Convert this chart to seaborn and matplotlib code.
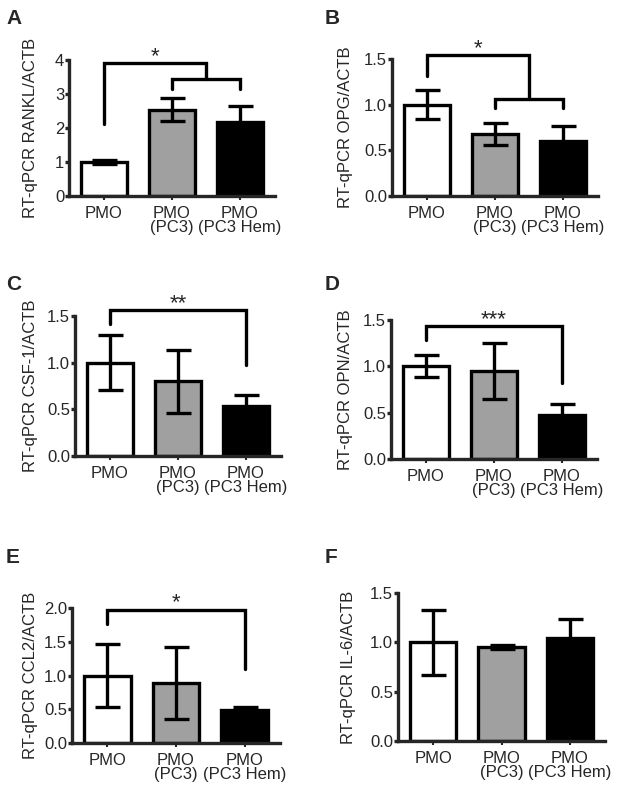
import matplotlib
matplotlib.use("Agg")
import matplotlib.pyplot as plt
import seaborn as sns
import pandas as pd
import numpy as np

# groups shared by all panels
groups = ["PMO", "PMO\n(PC3)", "PMO\n(PC3 Hem)"]
bar_colors = ["#ffffff", "#a0a0a0", "#000000"]

# mean +/- SEM (normalised to PMO = 1)
rankl_mean = [1.00, 2.54, 2.19]
rankl_sem = [0.05, 0.34, 0.46]
opg_mean = [1.00, 0.68, 0.60]
opg_sem = [0.16, 0.12, 0.165]
csf1_mean = [1.00, 0.80, 0.54]
csf1_sem = [0.295, 0.335, 0.115]
opn_mean = [1.00, 0.95, 0.475]
opn_sem = [0.12, 0.30, 0.12]
ccl2_mean = [1.00, 0.89, 0.49]
ccl2_sem = [0.47, 0.53, 0.04]
il6_mean = [1.00, 0.95, 1.04]
il6_sem = [0.33, 0.02, 0.20]

ylabels = ["RT-qPCR RANKL/ACTB", "RT-qPCR OPG/ACTB", "RT-qPCR CSF-1/ACTB",
           "RT-qPCR OPN/ACTB", "RT-qPCR CCL2/ACTB", "RT-qPCR IL-6/ACTB"]
letters = ["A", "B", "C", "D", "E", "F"]
ymax = [4, 1.5, 1.5, 1.5, 2.0, 1.5]
ystep = [1, 0.5, 0.5, 0.5, 0.5, 0.5]

# significance brackets: (y, left leg bottom, right leg bottom, x right end, label, sub-bracket)
# x right end 1.5 means the bracket joins a sub-bracket over groups 1-2
brackets = [
    (3.90, 2.13, 3.44, 1.5, "*", (3.44, 3.16)),
    (1.54, 1.31, 1.06, 1.5, "*", (1.06, 0.96)),
    (1.56, 1.41, 0.98, 2.0, "**", None),
    (1.43, 1.28, 0.82, 2.0, "***", None),
    (1.97, 1.76, 1.09, 2.0, "*", None),
    None,
]

means = [rankl_mean, opg_mean, csf1_mean, opn_mean, ccl2_mean, il6_mean]
sems = [rankl_sem, opg_sem, csf1_sem, opn_sem, ccl2_sem, il6_sem]

# axes boxes in pixels: left, right, y of zero line, y of top
boxes = [(69, 275, 196, 60), (392, 598, 196, 59),
         (75, 281, 456, 316), (391, 597, 459, 320),
         (72, 280, 743, 608), (398, 605, 741, 593)]
ylabel_x = [38, 353, 38, 353, 38, 356]
letter_xy = [(6, 24), (325, 24), (6, 290), (325, 290), (6, 563), (325, 563)]

sns.set_style("ticks")
plt.rcParams["font.family"] = ["Liberation Sans", "DejaVu Sans"]

W, H = 622, 795
fig = plt.figure(figsize=(W / 100, H / 100), dpi=100)
LW = 2.4

for i in range(6):
    l, r, y0, yt = boxes[i]
    ax = fig.add_axes([l / W, 1 - y0 / H, (r - l) / W, (y0 - yt) / H])
    df = pd.DataFrame({"group": groups, "value": means[i]})
    sns.barplot(data=df, x="group", y="value", hue="group", palette=bar_colors,
                legend=False, errorbar=None, width=0.68, edgecolor="black",
                linewidth=LW, ax=ax, zorder=2)
    ax.errorbar(range(3), means[i], yerr=sems[i], fmt="none", ecolor="black",
                elinewidth=LW, capsize=9, capthick=LW, zorder=3)

    ax.set_xlim(-0.515, 2.515)
    ax.set_ylim(0, ymax[i])
    ticks = np.arange(0, ymax[i] + 1e-9, ystep[i])
    ax.set_yticks(ticks)
    if ystep[i] < 1:
        ax.set_yticklabels([f"{t:.1f}" for t in ticks])
    else:
        ax.set_yticklabels([f"{t:.0f}" for t in ticks])
    ax.set_xlabel("")
    ax.set_ylabel(ylabels[i], fontsize=12)
    ax.yaxis.set_label_coords((ylabel_x[i] - l) / (r - l), 0.5)
    sns.despine(ax=ax)
    for s in ["left", "bottom"]:
        ax.spines[s].set_linewidth(LW)
    ax.tick_params(axis="y", length=3, width=LW, pad=0.5, labelsize=12)
    ax.tick_params(axis="x", length=3, width=1.5, pad=4, labelsize=12)
    for t in ax.get_xticklabels():
        t.set_linespacing(0.9)

    b = brackets[i]
    if b is not None:
        y, yl, yr, xr, lab, sub = b
        ax.plot([0, 0, xr, xr], [yl, y, y, yr], color="black", lw=LW,
                clip_on=False, solid_joinstyle="miter", zorder=4)
        if sub is not None:
            ys, ysl = sub
            ax.plot([1, 1, 2, 2], [ysl, ys, ys, ysl], color="black", lw=LW,
                    clip_on=False, solid_joinstyle="miter", zorder=4)
        ax.annotate(lab, (xr / 2, y), xytext=(0, 1), textcoords="offset points",
                    ha="center", va="baseline", fontsize=16, annotation_clip=False)

    fig.text(letter_xy[i][0] / W, 1 - letter_xy[i][1] / H, letters[i],
             fontsize=15, fontweight="bold", ha="left", va="baseline")

fig.savefig("out.png", dpi=100, facecolor="white")
